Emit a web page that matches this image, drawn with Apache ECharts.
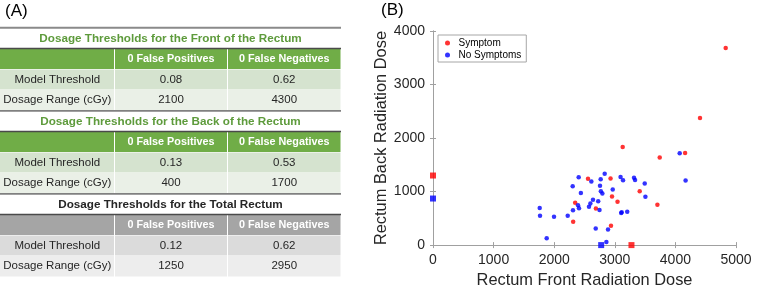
<!DOCTYPE html>
<html>
<head>
<meta charset="utf-8">
<script src="https://cdn.jsdelivr.net/npm/echarts@6/dist/echarts.min.js"></script>
<style>
html,body{margin:0;padding:0;background:#fff;}
#chart{width:775px;height:293px;}
</style>
</head>
<body>
<div id="chart"></div>
<script>
// ---------- Data: table (A) ----------
var sectionTitles = ['Dosage Thresholds for the Front of the Rectum', 'Dosage Thresholds for the Back of the Rectum', 'Dosage Thresholds for the Total Rectum'];
var columnHeaders = ['', '0 False Positives', '0 False Negatives'];
var rowLabels = ['Model Threshold', 'Dosage Range (cGy)'];
var modelThresholds = [['0.08', '0.62'], ['0.13', '0.53'], ['0.12', '0.62']];
var dosageRanges = [['2100', '4300'], ['400', '1700'], ['1250', '2950']];

// ---------- Data: scatter (B) ----------
var symptomX = [4830, 4406, 3130, 3741, 4160, 2558, 2930, 3411, 2954, 3045, 3703, 2346, 2688, 2313, 2937];
var symptomY = [3684, 2374, 1832, 1638, 1720, 1240, 1243, 1005, 910, 810, 752, 791, 682, 438, 363];
var noSymptomX = [4071, 4168, 2833, 2404, 2767, 2613, 2305, 2756, 2770, 2795, 2440, 2966, 3095, 3136, 3317, 3334, 3494, 3505, 2640, 2726, 2393, 2409, 2597, 2574, 2310, 2748, 3114, 3105, 3205, 1761, 1766, 1997, 2223, 2685, 2888, 1876, 2861];
var noSymptomY = [1717, 1208, 1333, 1266, 1232, 1187, 1098, 1108, 1008, 966, 974, 1041, 1272, 1211, 1260, 1218, 1151, 901, 846, 820, 743, 689, 776, 718, 652, 658, 615, 600, 624, 694, 548, 530, 548, 308, 290, 128, 58];
var symptomThresholdX = [0, 3275];
var symptomThresholdY = [1300, 0];
var noSymptomThresholdX = [0, 2775];
var noSymptomThresholdY = [870, 0];
var xTicks = [0, 1000, 2000, 3000, 4000, 5000];
var yTicks = [0, 1000, 2000, 3000, 4000];

function zip(a, b) { return a.map(function (v, i) { return [v, b[i]]; }); }

// ---------- Table layout ----------
var FONT = "'Liberation Sans', Arial, sans-serif";
var colEdges = [0, 114.5, 227.5, 341];
var firstTop = 28.5, sectionH = 83;
var palettes = [
  { title: '#5e9b3c', head: '#70ad47', r1: '#d5e3cf', r2: '#eaf0e7' },
  { title: '#5e9b3c', head: '#70ad47', r1: '#d5e3cf', r2: '#eaf0e7' },
  { title: '#262626', head: '#a5a5a5', r1: '#dbdbdb', r2: '#ededed' }
];
var g = [];
function rect(x, y, w, h, fill) { g.push({ type: 'rect', shape: { x: x, y: y, width: w, height: h }, style: { fill: fill }, silent: true }); }
function txt(s, x, y, opts) {
  g.push({ type: 'text', x: x, y: y, silent: true, style: Object.assign({ text: s, align: 'center', verticalAlign: 'middle', fontFamily: FONT, fontSize: 11.5, fill: '#262626' }, opts || {}) });
}
function hline(y, w, color) { g.push({ type: 'line', shape: { x1: 0, y1: y, x2: 341, y2: y }, style: { stroke: color, lineWidth: w }, silent: true }); }

hline(27.7, 2, '#8a8a8a');
sectionTitles.forEach(function (title, s) {
  var top = firstTop + s * sectionH;
  var p = palettes[s];
  txt(title, 170.5, top + 10, { fill: p.title, fontWeight: 'bold', fontSize: 11.7 });
  for (var c = 0; c < 3; c++) {
    var x0 = colEdges[c] + (c > 0 ? 0.5 : 0), x1 = colEdges[c + 1] - 0.5;
    rect(x0, top + 20.5, x1 - x0, 20, p.head);
    rect(x0, top + 41, x1 - x0, 20, p.r1);
    rect(x0, top + 61.5, x1 - x0, 20.5, p.r2);
    var cx = (colEdges[c] + colEdges[c + 1]) / 2;
    if (columnHeaders[c]) txt(columnHeaders[c], cx, top + 30.5, { fill: '#ffffff', fontWeight: 'bold', fontSize: 10.8 });
    if (c === 0) {
      txt(rowLabels[0], cx, top + 51, {});
      txt(rowLabels[1], cx, top + 71.8, {});
    } else {
      txt(modelThresholds[s][c - 1], cx, top + 51, {});
      txt(dosageRanges[s][c - 1], cx, top + 71.8, {});
    }
  }
  hline(top + 20, 1.5, '#4a4a4a');
  if (s < 2) hline(top + 82.3, 1.8, '#808080');
});
g.push({ type: 'text', x: 5, y: 11, silent: true, style: { text: '(A)', align: 'left', verticalAlign: 'middle', fontFamily: FONT, fontSize: 17, fill: '#000' } });
g.push({ type: 'text', x: 381, y: 10, silent: true, style: { text: '(B)', align: 'left', verticalAlign: 'middle', fontFamily: FONT, fontSize: 17, fill: '#000' } });

// ---------- Chart ----------
var AX = '#a0a0a0', LBL = '#262626';
var plain = function (v) { return String(v); };
var xBase = { type: 'value', min: xTicks[0], max: xTicks[xTicks.length - 1], interval: 1000, splitLine: { show: false },
  axisLine: { show: true, lineStyle: { color: AX, width: 1 } }, axisTick: { show: true, inside: true, length: 3, lineStyle: { color: AX } } };
var yBase = { type: 'value', min: yTicks[0], max: yTicks[yTicks.length - 1], interval: 1000, splitLine: { show: false },
  axisLine: { show: true, lineStyle: { color: AX, width: 1 } }, axisTick: { show: true, inside: true, length: 3, lineStyle: { color: AX } } };

var chart = echarts.init(document.getElementById('chart'), null, { renderer: 'canvas' });
chart.setOption({
  animation: false,
  backgroundColor: '#ffffff',
  graphic: { elements: g },
  grid: { left: 433, top: 31, width: 303, height: 219, containLabel: false },
  legend: {
    data: ['Symptom', 'No Symptoms'], orient: 'vertical', left: 438, top: 35,
    icon: 'circle', itemWidth: 12, itemHeight: 5, itemGap: 0,
    padding: [2, 5, 1, 7], borderColor: '#a6a6a6', borderWidth: 1, backgroundColor: '#fff',
    textStyle: { fontFamily: FONT, fontSize: 10, lineHeight: 12, color: '#000' }
  },
  xAxis: [
    Object.assign({}, xBase, { position: 'bottom', name: 'Rectum Front Radiation Dose', nameLocation: 'middle', nameGap: 26,
      nameTextStyle: { fontFamily: FONT, fontSize: 16.4, color: LBL },
      axisLabel: { margin: 8, fontFamily: FONT, fontSize: 14, color: LBL, formatter: plain } }),
    Object.assign({}, xBase, { position: 'top', axisLabel: { show: false } })
  ],
  yAxis: [
    Object.assign({}, yBase, { position: 'left', name: 'Rectum Back Radiation Dose', nameLocation: 'middle', nameGap: 29,
      nameTextStyle: { fontFamily: FONT, fontSize: 16.4, color: LBL },
      axisLabel: { margin: 8, fontFamily: FONT, fontSize: 14, color: LBL, formatter: plain } }),
    Object.assign({}, yBase, { position: 'right', axisLabel: { show: false } })
  ],
  series: [
    { name: 'Symptom', type: 'scatter', data: zip(symptomX, symptomY), symbol: 'circle', symbolSize: 4.5, itemStyle: { color: '#ff0000' }, clip: false },
    { name: 'No Symptoms', type: 'scatter', data: zip(noSymptomX, noSymptomY), symbol: 'circle', symbolSize: 4.5, itemStyle: { color: '#0000ff' }, clip: false },
    { name: 'Symptom threshold', type: 'scatter', data: zip(symptomThresholdX, symptomThresholdY), symbol: 'rect', symbolSize: 6, itemStyle: { color: '#ff0000' }, clip: false, z: 3 },
    { name: 'No Symptoms threshold', type: 'scatter', data: zip(noSymptomThresholdX, noSymptomThresholdY), symbol: 'rect', symbolSize: 6, itemStyle: { color: '#0000ff' }, clip: false, z: 3 }
  ]
});
</script>
</body>
</html>
